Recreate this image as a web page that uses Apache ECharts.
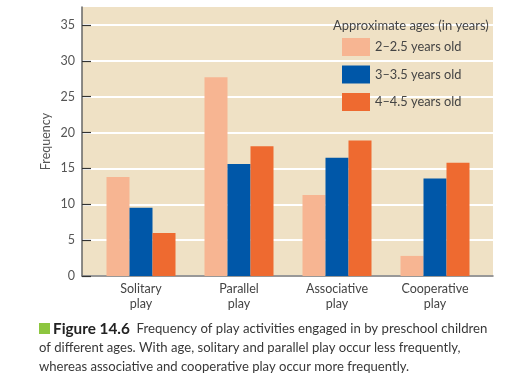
<!DOCTYPE html>
<html><head><meta charset="utf-8">
<style>html,body{margin:0;padding:0;background:#fff}#c{width:531px;height:383px}</style>
<script src="https://cdn.jsdelivr.net/npm/echarts@6/dist/echarts.min.js"></script>
</head><body><div id="c"></div>
<script>
const categories = ['Solitary\nplay', 'Parallel\nplay', 'Associative\nplay', 'Cooperative\nplay'];
const seriesNames = ['2–2.5 years old', '3–3.5 years old', '4–4.5 years old'];
const age2 = [13.8, 27.7, 11.3, 2.8];
const age3 = [9.5, 15.6, 16.5, 13.6];
const age4 = [6.0, 18.1, 18.9, 15.8];
const yTicks = [0, 5, 10, 15, 20, 25, 30, 35];
const colors = ['#F7B592', '#0057A8', '#EE6A30'];
const legendTitle = 'Approximate ages (in years)';
const yName = 'Frequency';
const captionBold = 'Figure 14.6';
const captionLines = [
  'Frequency of play activities engaged in by preschool children',
  'of different ages. With age, solitary and parallel play occur less frequently,',
  'whereas associative and cooperative play occur more frequently.'
];

const FONT = 'Lato, "Liberation Sans", sans-serif';
const chart = echarts.init(document.getElementById('c'), null, {renderer: 'canvas'});
const yMax = 37.5;
const option = {
  animation: false,
  grid: [
    {left: 82, right: 38, top: 7, bottom: 107, show: true, backgroundColor: '#EFE1C5', borderWidth: 0, z: 0},
    {left: 92, right: 47, top: 7, bottom: 107, show: false}
  ],
  xAxis: [
    {type: 'category', gridIndex: 0, data: categories, axisLine: {show: true, lineStyle: {color: '#777', width: 1.5}},
     axisTick: {show: false}, axisLabel: {show: false}, splitLine: {show: false}},
    {type: 'category', gridIndex: 1, data: categories, axisLine: {show: false}, axisTick: {show: false},
     axisLabel: {color: '#444', fontSize: 12.5, fontFamily: FONT, lineHeight: 14.5, margin: 6}}
  ],
  yAxis: [
    {type: 'value', gridIndex: 0, min: 0, max: yMax, interval: 5,
     axisLabel: {color: '#555', fontSize: 12.5, fontFamily: FONT, margin: 7,
       customValues: yTicks},
     axisTick: {show: true, inside: true, length: 9, lineStyle: {color: '#333', width: 1.2}, customValues: yTicks},
     axisLine: {show: true, lineStyle: {color: '#666', width: 1.5}},
     splitLine: {show: true, lineStyle: {color: '#ffffff', width: 1.8}},
     name: yName, nameLocation: 'middle', nameGap: 30, nameRotate: 90, nameMoveOverlap: false,
     nameTextStyle: {color: '#555', fontSize: 12.5, fontFamily: FONT}},
    {type: 'value', gridIndex: 1, min: 0, max: yMax, show: false}
  ],
  legend: {
    data: seriesNames, orient: 'vertical', left: 342, top: 38, itemWidth: 28, itemHeight: 18, itemGap: 9.5,
    icon: 'rect', textStyle: {color: '#444', fontSize: 12.8, fontFamily: FONT, padding: [0, 0, 0, 0]}, padding: 0,
    selectedMode: false
  },
  series: [
    {name: seriesNames[0], type: 'bar', xAxisIndex: 1, yAxisIndex: 1, data: age2, barWidth: 23, barGap: '0%', itemStyle: {color: colors[0]}},
    {name: seriesNames[1], type: 'bar', xAxisIndex: 1, yAxisIndex: 1, data: age3, barWidth: 23, barGap: '0%', itemStyle: {color: colors[1]}},
    {name: seriesNames[2], type: 'bar', xAxisIndex: 1, yAxisIndex: 1, data: age4, barWidth: 23, barGap: '0%', itemStyle: {color: colors[2]}}
  ],
  graphic: [
    {type: 'text', left: 333, top: 19, z: 10, style: {text: legendTitle, fill: '#444', font: '13px ' + FONT}},
    {type: 'rect', shape: {x: 39, y: 323, width: 11, height: 11}, style: {fill: '#8DC63F'}},
    {type: 'text', left: 53, top: 320, style: {
      text: '{b|' + captionBold + '}  ' + captionLines[0],
      font: '13.2px ' + FONT, fill: '#383838', lineHeight: 18.3,
      rich: {b: {font: 'bold 15.3px ' + FONT, fill: '#222'}}
    }},
    {type: 'text', left: 39, top: 339, style: {
      text: captionLines[1] + '\n' + captionLines[2],
      font: '13.1px ' + FONT, fill: '#383838', lineHeight: 18.3
    }}
  ]
};
chart.setOption(option);
</script></body></html>
